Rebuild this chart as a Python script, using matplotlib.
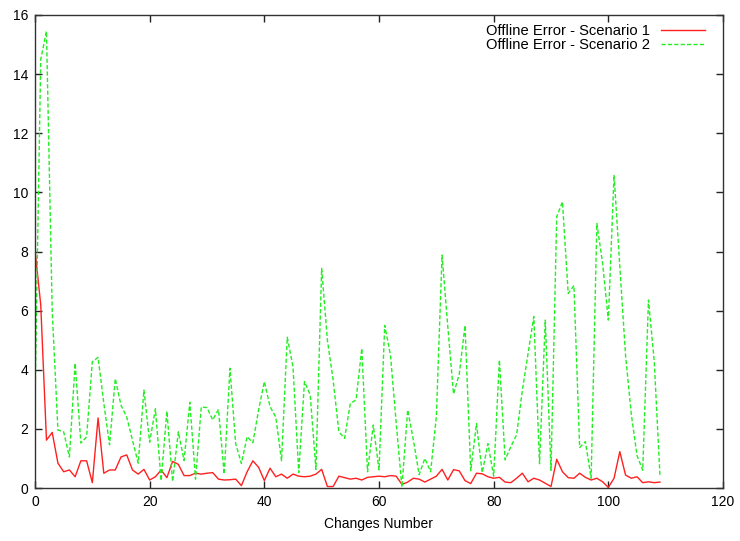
import matplotlib
matplotlib.use('Agg')
import matplotlib.pyplot as plt

# Offline error per change
changes = list(range(110))

scenario1 = [8.05, 6.2, 1.62, 1.88, 0.84, 0.55, 0.61, 0.38, 0.92, 0.92,
             0.18, 2.37, 0.5, 0.61, 0.61, 1.05, 1.12, 0.61, 0.47, 0.63,
             0.27, 0.38, 0.61, 0.35, 0.9, 0.8, 0.42, 0.42, 0.5, 0.47,
             0.5, 0.52, 0.3, 0.27, 0.28, 0.3, 0.08, 0.55, 0.92, 0.7,
             0.25, 0.67, 0.38, 0.47, 0.33, 0.47, 0.4, 0.38, 0.4, 0.47,
             0.63, 0.05, 0.05, 0.4, 0.35, 0.3, 0.33, 0.27, 0.36, 0.38,
             0.4, 0.38, 0.42, 0.4, 0.12, 0.2, 0.33, 0.3, 0.2, 0.3,
             0.4, 0.63, 0.27, 0.62, 0.58, 0.25, 0.15, 0.5, 0.48, 0.38,
             0.33, 0.36, 0.2, 0.18, 0.33, 0.5, 0.21, 0.33, 0.27, 0.16,
             0.05, 0.97, 0.55, 0.35, 0.33, 0.5, 0.36, 0.27, 0.33, 0.21,
             0.02, 0.33, 1.23, 0.44, 0.33, 0.38, 0.18, 0.21, 0.18, 0.2]

scenario2 = [3.0, 14.5, 15.45, 6.0, 1.96, 1.9, 1.05, 4.22, 1.52, 1.73,
             4.27, 4.42, 2.87, 1.46, 3.7, 2.8, 2.4, 1.62, 0.84, 3.31,
             1.55, 2.68, 0.25, 2.6, 0.22, 1.9, 0.93, 2.9, 0.3, 2.74,
             2.72, 2.3, 2.66, 0.47, 4.05, 1.5, 0.83, 1.74, 1.53, 2.64,
             3.6, 2.75, 2.4, 0.92, 5.1, 4.1, 0.52, 3.6, 3.15, 0.63,
             7.43, 5.0, 3.65, 1.9, 1.68, 2.86, 2.98, 4.72, 0.55, 2.13,
             0.61, 5.5, 4.5, 2.2, 0.03, 2.64, 1.62, 0.45, 1.0, 0.55,
             2.4, 7.88, 5.46, 3.18, 3.85, 5.5, 0.58, 2.18, 0.52, 1.5,
             0.4, 4.33, 0.95, 1.4, 1.8, 3.3, 4.55, 5.8, 0.82, 5.68,
             0.6, 9.18, 9.68, 6.58, 6.85, 1.37, 1.57, 0.33, 8.95, 7.6,
             5.68, 10.59, 7.5, 4.5, 2.5, 1.1, 0.6, 6.36, 4.3, 0.44]

labels = ['Offline Error - Scenario 1', 'Offline Error - Scenario 2']
x_ticks = [0, 20, 40, 60, 80, 100, 120]
y_ticks = [0, 2, 4, 6, 8, 10, 12, 14, 16]

plt.rcParams['font.family'] = ['Liberation Sans', 'DejaVu Sans']

fig = plt.figure(figsize=(7.4, 5.41), dpi=100)
ax = fig.add_axes([35 / 740, 53 / 541, 688 / 740, 473 / 541])

ax.plot(changes, scenario1, color='#ff2020', linewidth=1.0, label=labels[0])
ax.plot(changes, scenario2, color='#22ee22', linewidth=1.0,
        linestyle=(0, (3, 1.6)), label=labels[1])

ax.set_xlim(0, 120)
ax.set_ylim(0, 16)
ax.set_xticks(x_ticks)
ax.set_yticks(y_ticks)
ax.tick_params(direction='in', length=5, width=1, top=True, right=True,
               labelsize=10, pad=5, color='#222222')
for s in ax.spines.values():
    s.set_color('#333333')
    s.set_linewidth(1.0)

ax.set_xlabel('Changes Number', fontsize=10, labelpad=6)

# gnuplot-style key: text first, sample line on the right
ax.legend(loc='upper right', bbox_to_anchor=(1 - 8 / 688, 1 + 1 / 473),
          frameon=False, markerfirst=False, fontsize=10.6,
          handlelength=3.0, handletextpad=0.7, labelspacing=0.0,
          borderaxespad=0.3)

fig.savefig('out.png', dpi=100)
